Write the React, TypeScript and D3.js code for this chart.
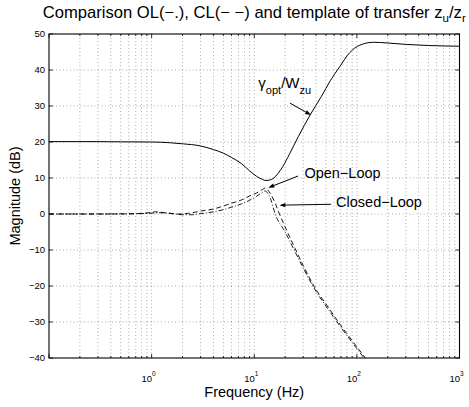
import React from "react";
import * as d3 from "d3";

// ---- data (frequency in Hz, magnitude in dB) ----
const freqTemplate = [0.1, 0.3, 0.5, 1, 1.5, 2, 3, 4, 5, 6, 7.5, 9, 10.5, 12, 13, 14, 15.5, 17, 19, 22, 27, 35, 45, 55, 68, 85, 107, 145, 200, 305, 500, 1000];
const magTemplate = [20.1, 20.1, 20.05, 20.0, 19.8, 19.5, 18.9, 17.9, 16.9, 15.7, 14.0, 12.0, 10.5, 9.6, 9.3, 9.4, 10.0, 11.2, 13.2, 16.6, 21.6, 27.5, 32.6, 37.0, 40.9, 44.8, 46.9, 47.7, 47.5, 47.1, 46.8, 46.6];

const freqOL = [0.1, 0.3, 0.6, 0.9, 1.2, 1.5, 2, 2.5, 3, 4, 5, 6, 7.5, 9, 10.5, 12, 12.8, 13.5, 14.5, 16, 20, 24, 30, 40, 50, 70, 100, 125];
const magOL = [0, 0, 0.05, 0.15, 0.35, 0.2, -0.2, -0.2, 0.1, 0.6, 1.2, 1.9, 2.8, 3.8, 4.9, 6.0, 6.4, 5.8, 4.0, 0.0, -5.0, -9.5, -15.0, -21.5, -25.6, -31.5, -37.4, -41.0];

const freqCL = [0.1, 0.3, 0.6, 0.9, 1.1, 1.4, 1.8, 2.3, 3, 4, 5, 6, 7.5, 9, 10.5, 12, 12.8, 13.6, 14.8, 16, 17.6, 20, 24, 30, 40, 50, 70, 100, 125];
const magCL = [0, 0, 0.05, 0.3, 0.6, 0.3, 0.0, 0.2, 0.8, 1.4, 2.2, 3.0, 3.9, 5.0, 5.8, 6.8, 7.2, 6.6, 5.0, 3.0, 0.0, -3.6, -8.5, -14.3, -21.0, -25.0, -31.0, -36.9, -40.5];

const yTicks = [50, 40, 30, 20, 10, 0, -10, -20, -30, -40];
const xTickExponents = [0, 1, 2, 3];

const titleText = "Comparison OL(−.), CL(− −) and template of transfer z";
const xLabel = "Frequency (Hz)";
const yLabel = "Magnitude (dB)";
const openLoopLabel = "Open−Loop";
const closedLoopLabel = "Closed−Loop";

// annotation anchors in data coordinates [freq, dB]
const gammaText: [number, number] = [10.96, 35];
const gammaArrow: [number, number][] = [[22.3, 30.8], [35.8, 27.5]];
const olText: [number, number] = [30.8, 10.1];
const olArrow: [number, number][] = [[26.7, 10.55], [13.7, 7.3]];
const clText: [number, number] = [62.7, 1.86];
const clArrow: [number, number][] = [[56.1, 2.7], [17.6, 2.45]];

const W = 469;
const H = 407;
const L = 49, R = 459.5, T = 34, B = 358;
const FONT = "'Liberation Sans', Arial, Helvetica, sans-serif";

function Arrow({ pts, x, y }: { pts: [number, number][]; x: any; y: any }) {
  const x1 = x(pts[0][0]), y1 = y(pts[0][1]);
  const x2 = x(pts[1][0]), y2 = y(pts[1][1]);
  const ang = Math.atan2(y2 - y1, x2 - x1);
  const len = 6, wid = 2.2;
  const bx = x2 - len * Math.cos(ang), by = y2 - len * Math.sin(ang);
  const px = -Math.sin(ang) * wid, py = Math.cos(ang) * wid;
  return (
    <g>
      <line x1={x1} y1={y1} x2={bx} y2={by} stroke="#000" strokeWidth={1} />
      <path d={`M${x2},${y2}L${bx + px},${by + py}L${bx - px},${by - py}Z`} fill="#000" />
    </g>
  );
}

export default function App() {
  const x = d3.scaleLog().domain([0.1, 1000]).range([L, R]);
  const y = d3.scaleLinear().domain([-40, 50]).range([B, T]);

  const minor: number[] = [];
  const major: number[] = [];
  for (let k = -1; k <= 2; k++) {
    for (let i = 1; i <= 9; i++) {
      const v = i * Math.pow(10, k);
      if (i === 1) major.push(v);
      else minor.push(v);
    }
  }
  major.push(1000);

  const line = d3
    .line<[number, number]>()
    .x((d) => x(d[0]))
    .y((d) => y(d[1]))
    .curve(d3.curveMonotoneX);

  const tData = freqTemplate.map((f, i) => [f, magTemplate[i]] as [number, number]);
  const olData = freqOL.map((f, i) => [f, magOL[i]] as [number, number]);
  const clData = freqCL.map((f, i) => [f, magCL[i]] as [number, number]);

  const gridStyle = { stroke: "#000", strokeWidth: 0.6, strokeDasharray: "1,2.5", opacity: 0.55 };

  return (
    <svg width={W} height={H} style={{ position: "absolute", left: 0, top: 0, background: "#fff" }} fontFamily={FONT}>
      <defs>
        <clipPath id="plotclip">
          <rect x={L} y={T} width={R - L} height={B - T} />
        </clipPath>
      </defs>
      <rect x={0} y={0} width={W} height={H} fill="#fff" />

      {/* grid */}
      <g>
        {[...major, ...minor]
          .filter((v) => v > 0.1 && v < 1000)
          .map((v, i) => (
            <line key={"gx" + i} x1={x(v)} x2={x(v)} y1={T} y2={B} {...gridStyle} />
          ))}
        {yTicks
          .filter((v) => v > -40 && v < 50)
          .map((v) => (
            <line key={"gy" + v} x1={L} x2={R} y1={y(v)} y2={y(v)} {...gridStyle} />
          ))}
      </g>

      {/* ticks */}
      <g stroke="#000" strokeWidth={0.8}>
        {major.map((v, i) => (
          <g key={"mt" + i}>
            <line x1={x(v)} x2={x(v)} y1={B} y2={B - 4} />
            <line x1={x(v)} x2={x(v)} y1={T} y2={T + 4} />
          </g>
        ))}
        {minor.map((v, i) => (
          <g key={"nt" + i}>
            <line x1={x(v)} x2={x(v)} y1={B} y2={B - 2} />
            <line x1={x(v)} x2={x(v)} y1={T} y2={T + 2} />
          </g>
        ))}
        {yTicks.map((v) => (
          <g key={"yt" + v}>
            <line x1={L} x2={L + 4} y1={y(v)} y2={y(v)} />
            <line x1={R} x2={R - 4} y1={y(v)} y2={y(v)} />
          </g>
        ))}
      </g>

      {/* curves */}
      <g clipPath="url(#plotclip)" fill="none" stroke="#000">
        <path d={line(tData) || ""} strokeWidth={1} />
        <path d={line(olData) || ""} strokeWidth={0.9} strokeDasharray="5,2,1,2" />
        <path d={line(clData) || ""} strokeWidth={0.9} strokeDasharray="5,3" />
      </g>

      {/* axes box */}
      <rect x={L} y={T} width={R - L} height={B - T} fill="none" stroke="#000" strokeWidth={1.1} />

      {/* y tick labels */}
      {yTicks.map((v) => (
        <text key={"yl" + v} x={L - 4} y={y(v) + 3.3} fontSize={9.5} textAnchor="end" fill="#000">
          {v < 0 ? "−" + Math.abs(v) : String(v)}
        </text>
      ))}

      {/* x tick labels */}
      {xTickExponents.map((e) => (
        <text key={"xl" + e} x={x(Math.pow(10, e)) - 3} y={B + 24} fontSize={9.5} textAnchor="middle" fill="#000">
          10
          <tspan dy={-6} fontSize={6.5}>
            {String(e)}
          </tspan>
        </text>
      ))}

      {/* axis labels */}
      <text x={(L + R) / 2} y={397} fontSize={14.5} textAnchor="middle" fill="#000">
        {xLabel}
      </text>
      <text transform={`translate(20,${(T + B) / 2}) rotate(-90)`} fontSize={14.5} textAnchor="middle" fill="#000">
        {yLabel}
      </text>

      {/* title */}
      <text x={(L + R) / 2} y={17.5} fontSize={16.6} textAnchor="middle" fill="#000">
        {titleText}
        <tspan dy={4} fontSize={11.5}>u</tspan>
        <tspan dy={-4}>/z</tspan>
        <tspan dy={4} fontSize={11.5}>r</tspan>
      </text>

      {/* annotations */}
      <text x={x(gammaText[0])} y={y(gammaText[1])} fontSize={15} fill="#000">
        γ
        <tspan dy={6} fontSize={11}>opt</tspan>
        <tspan dy={-6}>/W</tspan>
        <tspan dy={6} fontSize={11}>zu</tspan>
      </text>
      <Arrow pts={gammaArrow} x={x} y={y} />

      <text x={x(olText[0])} y={y(olText[1])} fontSize={14.5} fill="#000">
        {openLoopLabel}
      </text>
      <Arrow pts={olArrow} x={x} y={y} />

      <text x={x(clText[0])} y={y(clText[1])} fontSize={14.5} fill="#000">
        {closedLoopLabel}
      </text>
      <Arrow pts={clArrow} x={x} y={y} />
    </svg>
  );
}
